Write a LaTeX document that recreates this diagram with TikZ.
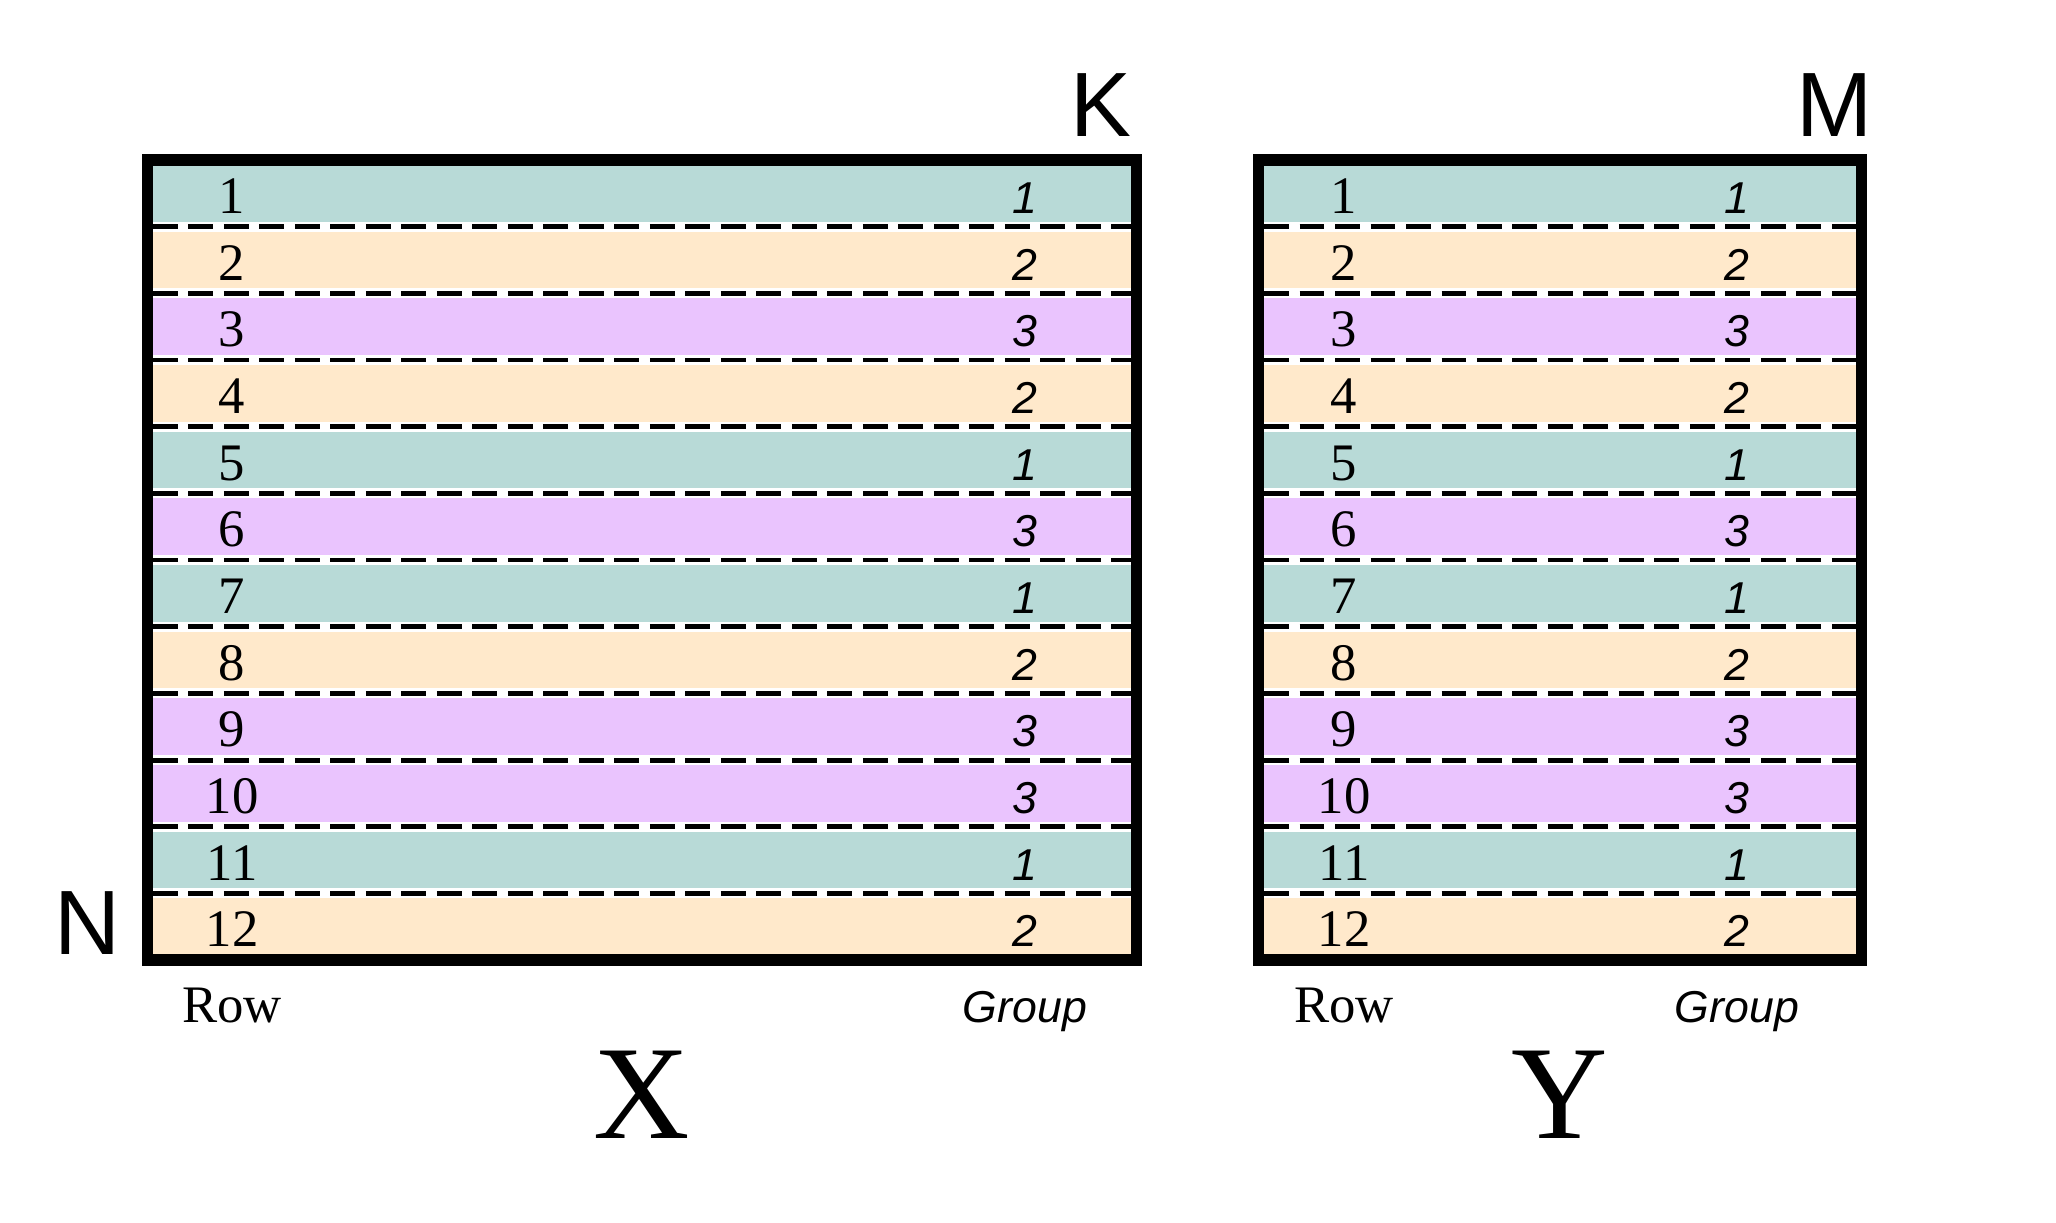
\documentclass[tikz,border=0pt]{standalone}
\usepackage{fontspec}
\setmainfont{Liberation Serif}
\newfontfamily\arialfont{Liberation Sans}
\definecolor{grpone}{HTML}{B8DAD7}
\definecolor{grptwo}{HTML}{FFE9CB}
\definecolor{grpthree}{HTML}{EAC4FE}
\begin{document}
\begin{tikzpicture}[x=0.1mm,y=-0.1mm,
	frame/.style={line width=3.3pt},
	sepline/.style={line width=1.4pt,dash pattern=on 7.1pt off 3pt},
	rownum/.style={anchor=base,inner sep=0,font=\fontsize{15}{18}\selectfont},
	grpnum/.style={anchor=base,inner sep=0,font=\arialfont\itshape\fontsize{12.7}{15}\selectfont},
	dimlab/.style={inner sep=0,font=\arialfont\fontsize{26}{30}\selectfont},
	matlab/.style={anchor=base,inner sep=0,font=\fontsize{38}{44}\selectfont}]
	\useasboundingbox (0,0) rectangle (2056,1222);
	\def\h{66.67} % row height
	% left edge / right edge / row column / group column / name
	\foreach \xl/\xr/\xa/\xb/\nm in {147.5/1136.5/232/1025/X, 1258.5/1861.5/1344/1737/Y}{
		\foreach \g [count=\i] in {1,2,3,2,1,3,1,2,3,3,1,2}{
			\ifcase\g\or\def\c{grpone}\or\def\c{grptwo}\or\def\c{grpthree}\fi
			\fill[\c] (\xl,{160+(\i-1)*\h}) rectangle (\xr,{160+\i*\h});
			\node[rownum] (r\nm\i) at (\xa,{160+(\i-.5)*\h+20}) {\i};
			\node[grpnum] (g\nm\i) at (\xb,{160+(\i-.5)*\h+20}) {\g};
		}
		\foreach \i in {1,...,11}{
			\draw[white,line width=2.8pt] ({\xl+5.5},{160+\i*\h}) -- ({\xr-5.5},{160+\i*\h});
			\draw[sepline] ({\xl+5.5},{160+\i*\h}) -- ({\xr-5.5},{160+\i*\h});
		}
		\draw[frame] (\xl,160) rectangle (\xr,960);
		\node[rownum] (row\nm) at (\xa,1022) {Row};
		\node[grpnum] (grp\nm) at (\xb,1022) {Group};
		\node[matlab] (name\nm) at ({(\xl+\xr)/2},1138) {\nm};
	}
	\node[dimlab] (K) at (1101,105.5) {K};
	\node[dimlab] (M) at (1835,105.5) {M};
	\node[dimlab] (N) at (87.5,923.5) {N};
\end{tikzpicture}
\end{document}
